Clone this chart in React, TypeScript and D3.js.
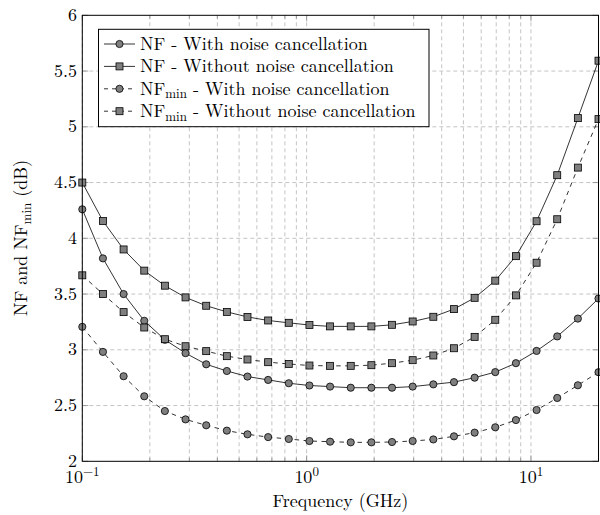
import React from "react";
import * as d3 from "d3";

const freqGHz = [0.1, 0.1236, 0.1528, 0.1889, 0.2334, 0.2885, 0.3567, 0.4409, 0.5449, 0.6736, 0.8326, 1.0292, 1.2721, 1.5725, 1.9437, 2.4025, 2.9697, 3.6707, 4.5373, 5.6084, 6.9324, 8.569, 10.592, 13.092, 16.183, 20.0];
const nfWith = [4.26, 3.82, 3.5, 3.26, 3.09, 2.97, 2.87, 2.81, 2.76, 2.73, 2.7, 2.68, 2.67, 2.66, 2.66, 2.66, 2.67, 2.69, 2.71, 2.75, 2.8, 2.88, 2.99, 3.12, 3.28, 3.46];
const nfWithout = [4.5, 4.155, 3.9, 3.71, 3.575, 3.47, 3.395, 3.34, 3.295, 3.263, 3.242, 3.222, 3.21, 3.21, 3.21, 3.224, 3.254, 3.296, 3.365, 3.466, 3.62, 3.84, 4.153, 4.566, 5.078, 5.593];
const nfminWith = [3.206, 2.981, 2.763, 2.583, 2.451, 2.376, 2.323, 2.275, 2.242, 2.217, 2.2, 2.182, 2.176, 2.17, 2.17, 2.173, 2.182, 2.196, 2.224, 2.257, 2.305, 2.37, 2.46, 2.568, 2.682, 2.799];
const nfminWithout = [3.668, 3.5, 3.338, 3.2, 3.095, 3.032, 2.988, 2.943, 2.913, 2.889, 2.873, 2.859, 2.856, 2.856, 2.862, 2.88, 2.907, 2.949, 3.014, 3.116, 3.269, 3.488, 3.781, 4.171, 4.634, 5.069];

const yTicks = [2, 2.5, 3, 3.5, 4, 4.5, 5, 5.5, 6];
const yTickLabels = ["2", "2.5", "3", "3.5", "4", "4.5", "5", "5.5", "6"];
const xMajorTicks = [0.1, 1, 10];
const xMajorExp = ["−1", "0", "1"];
const xMinorTicks = [0.2, 0.3, 0.4, 0.5, 0.6, 0.7, 0.8, 0.9, 2, 3, 4, 5, 6, 7, 8, 9];

type Series = { values: number[]; marker: "circle" | "square"; dashed: boolean; base: string; desc: string; sub: boolean };
const series: Series[] = [
  { values: nfWith, marker: "circle", dashed: false, base: "NF", desc: " - With noise cancellation", sub: false },
  { values: nfWithout, marker: "square", dashed: false, base: "NF", desc: " - Without noise cancellation", sub: false },
  { values: nfminWith, marker: "circle", dashed: true, base: "NF", desc: " - With noise cancellation", sub: true },
  { values: nfminWithout, marker: "square", dashed: true, base: "NF", desc: " - Without noise cancellation", sub: true },
];

const W = 600, H = 515;
const L = 82.3, R = 598.5, T = 15.3, B = 461.3;
const FONT = "'Latin Modern Roman', 'Liberation Serif', serif";
const FS = 18;
const SUBFS = 13;
const MFILL = "#7f7f7f";

function Marker({ kind, x, y }: { kind: string; x: number; y: number }) {
  if (kind === "circle") return <circle cx={x} cy={y} r={3.6} fill={MFILL} stroke="#000" strokeWidth={0.8} />;
  return <rect x={x - 3.5} y={y - 3.5} width={7} height={7} fill={MFILL} stroke="#000" strokeWidth={0.8} />;
}

export default function App() {
  const x = d3.scaleLog().domain([0.1, 20]).range([L, R]);
  const y = d3.scaleLinear().domain([2, 6]).range([B, T]);
  const line = d3.line<number>().x((_, i) => x(freqGHz[i])).y((d) => y(d));
  const gridColor = "#c4c4c4";
  const dash = "4,3";
  const allX = [...xMajorTicks, ...xMinorTicks];

  const legX = 98.5, legY = 29.3, legW = 330.5, legH = 97.4;
  const rowBase = [50, 72.4, 94.8, 117.2];

  return (
    <svg width={W} height={H} style={{ position: "absolute", left: 0, top: 0, background: "#fff", fontFamily: FONT }}>
      <rect x={0} y={0} width={W} height={H} fill="#fff" />
      {allX.map((t, i) => (
        <line key={"gx" + i} x1={x(t)} x2={x(t)} y1={T} y2={B} stroke={gridColor} strokeWidth={1} strokeDasharray={dash} />
      ))}
      {yTicks.slice(1, -1).map((t, i) => (
        <line key={"gy" + i} x1={L} x2={R} y1={y(t)} y2={y(t)} stroke={gridColor} strokeWidth={1} strokeDasharray={dash} />
      ))}
      {allX.map((t, i) => {
        const len = xMajorTicks.includes(t) ? 6 : 3.5;
        return (
          <g key={"tx" + i} stroke="#8c8c8c" strokeWidth={0.8}>
            <line x1={x(t)} x2={x(t)} y1={B} y2={B - len} />
            <line x1={x(t)} x2={x(t)} y1={T} y2={T + len} />
          </g>
        );
      })}
      {yTicks.map((t, i) => (
        <g key={"ty" + i} stroke="#8c8c8c" strokeWidth={0.8}>
          <line x1={L} x2={L + 6} y1={y(t)} y2={y(t)} />
          <line x1={R} x2={R - 6} y1={y(t)} y2={y(t)} />
        </g>
      ))}
      {series.map((s, k) => (
        <g key={"s" + k}>
          <path d={line(s.values) || ""} fill="none" stroke="#000" strokeWidth={0.8} strokeDasharray={s.dashed ? "4.5,4.5" : undefined} />
          {s.values.map((v, i) => (
            <Marker key={i} kind={s.marker} x={x(freqGHz[i])} y={y(v)} />
          ))}
        </g>
      ))}
      <rect x={L} y={T} width={R - L} height={B - T} fill="none" stroke="#000" strokeWidth={1} />
      {yTicks.map((t, i) => (
        <text key={"yl" + i} x={77} y={y(t) + 5.6} textAnchor="end" fontSize={FS} fill="#000">
          {yTickLabels[i]}
        </text>
      ))}
      {xMajorTicks.map((t, i) => (
        <text key={"xl" + i} x={x(t)} y={483} textAnchor="middle" fontSize={FS} fill="#000">
          10<tspan fontSize={SUBFS} dy={-7.5}>{xMajorExp[i]}</tspan>
        </text>
      ))}
      <text x={(L + R) / 2} y={507} textAnchor="middle" fontSize={FS} fill="#000">
        Frequency (GHz)
      </text>
      <text transform={`translate(27,238) rotate(-90)`} textAnchor="middle" fontSize={FS} fill="#000">
        NF and NF<tspan fontSize={SUBFS} dy={3.5}>min</tspan><tspan dy={-3.5}> (dB)</tspan>
      </text>
      <rect x={legX} y={legY} width={legW} height={legH} fill="#fff" stroke="#000" strokeWidth={1} />
      {series.map((s, k) => {
        const cy = rowBase[k] - 6;
        return (
          <g key={"lg" + k}>
            <line x1={104} x2={135} y1={cy} y2={cy} stroke="#000" strokeWidth={0.8} strokeDasharray={s.dashed ? "4,4" : undefined} />
            <Marker kind={s.marker} x={119.5} y={cy} />
            <text x={140} y={rowBase[k]} fontSize={FS} fill="#000">
              {s.base}
              {s.sub ? (
                <>
                  <tspan fontSize={SUBFS} dy={3.5}>min</tspan>
                  <tspan dy={-3.5}>{s.desc}</tspan>
                </>
              ) : (
                <tspan>{s.desc}</tspan>
              )}
            </text>
          </g>
        );
      })}
    </svg>
  );
}
